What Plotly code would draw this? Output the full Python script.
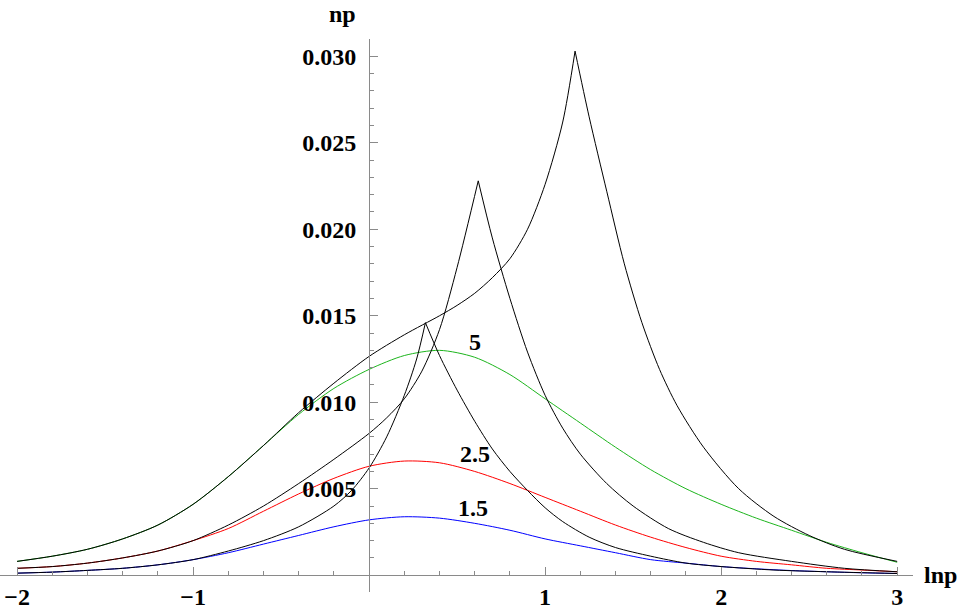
import plotly.graph_objects as go

# ---- data ----
x_col = [-2, -1.8, -1.6, -1.4, -1.2, -1.0, -0.8, -0.6, -0.4, -0.2, 0, 0.2, 0.4, 0.6, 0.8,
         1.0, 1.2, 1.4, 1.6, 1.8, 2.0, 2.2, 2.4, 2.6, 2.8, 3.0]
green_5 = [0.0008, 0.0011, 0.0015, 0.0021, 0.0029, 0.0041, 0.0057, 0.0075, 0.0093, 0.0108,
           0.0119, 0.0127, 0.0130, 0.0126, 0.0116, 0.0102, 0.0088, 0.0074, 0.0061, 0.0050,
           0.0041, 0.0033, 0.0026, 0.0019, 0.0013, 0.00075]
red_25 = [0.0004, 0.0005, 0.0007, 0.0010, 0.0014, 0.0020, 0.0027, 0.0037, 0.0047, 0.0056,
          0.0063, 0.0066, 0.0065, 0.0060, 0.0053, 0.0045, 0.0037, 0.0029, 0.0022, 0.0016,
          0.0011, 0.0008, 0.0006, 0.0004, 0.0003, 0.0002]
blue_15 = [0.00012, 0.00018, 0.00028, 0.0004, 0.0006, 0.0009, 0.0013, 0.0018, 0.0023, 0.0028,
           0.0032, 0.00338, 0.0033, 0.0030, 0.0026, 0.0021, 0.0017, 0.0013, 0.0009, 0.0007,
           0.0005, 0.00037, 0.00027, 0.0002, 0.00014, 0.0001]

# black curve A (follows green on the left, cusp near 1.17)
a_left_x = [-2, -1.8, -1.6, -1.4, -1.2, -1.0, -0.8, -0.6, -0.4, -0.2, 0, 0.2, 0.4,
            0.5, 0.6, 0.7, 0.8, 0.9, 1.0, 1.1, 1.17]
a_left_y = [0.0008, 0.0011, 0.0015, 0.0021, 0.0029, 0.0041, 0.0057, 0.0075, 0.0094, 0.0111,
            0.01265, 0.0139, 0.0150, 0.0156, 0.0163, 0.0172, 0.0183, 0.0200, 0.0226, 0.0262, 0.0303]
a_right_x = [1.17, 1.25, 1.35, 1.45, 1.55, 1.65, 1.75, 1.9, 2.1, 2.3, 2.5, 2.7, 3.0]
a_right_y = [0.0303, 0.0265, 0.0222, 0.0180, 0.0146, 0.0119, 0.0098, 0.0074, 0.0050, 0.0034,
             0.0023, 0.0015, 0.0008]

# black curve B (follows red on the left, cusp near 0.62)
b_left_x = [-2, -1.8, -1.6, -1.4, -1.2, -1.0, -0.8, -0.6, -0.4, -0.2, 0, 0.1, 0.2, 0.3, 0.4, 0.5, 0.62]
b_left_y = [0.0004, 0.0005, 0.0007, 0.0010, 0.0014, 0.0020, 0.0029, 0.0040, 0.0053, 0.0067,
            0.0082, 0.0091, 0.0102, 0.0118, 0.0142, 0.0178, 0.0228]
b_right_x = [0.62, 0.7, 0.8, 0.9, 1.0, 1.1, 1.2, 1.35, 1.5, 1.7, 1.9, 2.1, 2.4, 2.7, 3.0]
b_right_y = [0.0228, 0.0195, 0.0160, 0.0129, 0.0104, 0.0085, 0.0070, 0.0053, 0.0040, 0.0027,
             0.0019, 0.0013, 0.0008, 0.0004, 0.0002]

# black curve C (follows blue on the left, cusp near 0.32)
c_left_x = [-2, -1.8, -1.6, -1.4, -1.2, -1.0, -0.8, -0.6, -0.4, -0.2, -0.1, 0, 0.1, 0.2, 0.27, 0.32]
c_left_y = [0.00012, 0.00018, 0.00028, 0.0004, 0.0006, 0.0009, 0.0014, 0.0020, 0.0028, 0.0040,
            0.0049, 0.0062, 0.0080, 0.0104, 0.0125, 0.0146]
c_right_x = [0.32, 0.4, 0.5, 0.6, 0.7, 0.8, 0.9, 1.0, 1.1, 1.25, 1.4, 1.6, 1.8, 2.0, 2.3, 2.6, 3.0]
c_right_y = [0.0146, 0.0127, 0.0107, 0.0089, 0.0073, 0.0060, 0.0049, 0.0039, 0.0031, 0.0022,
             0.0016, 0.0011, 0.0007, 0.0005, 0.0003, 0.0002, 0.0001]

curve_labels = ["5", "2.5", "1.5"]
label_x = [0.60, 0.60, 0.59]
label_y = [0.0135, 0.0070, 0.0039]

x_tickvals = [-2, -1, 1, 2, 3]
x_ticktext = ["\u22122", "\u22121", "1", "2", "3"]
y_tickvals = [0.005, 0.010, 0.015, 0.020, 0.025, 0.030]
y_ticktext = ["0.005", "0.010", "0.015", "0.020", "0.025", "0.030"]

X_RANGE = [-2.097, 3.09]
Y_RANGE = [-0.00097, 0.0310]

FONT = "Liberation Serif"
AXIS_COL = "#8a8a8a"

fig = go.Figure()

def add_line(xs, ys, color):
    fig.add_trace(go.Scatter(x=xs, y=ys, mode="lines",
                             line=dict(color=color, width=1, shape="spline", smoothing=0.8),
                             showlegend=False, hoverinfo="skip"))

add_line(x_col, green_5, "#1db51d")
add_line(x_col, red_25, "#ff0000")
add_line(x_col, blue_15, "#0000ff")
for xs, ys in [(a_left_x, a_left_y), (a_right_x, a_right_y),
               (b_left_x, b_left_y), (b_right_x, b_right_y),
               (c_left_x, c_left_y), (c_right_x, c_right_y)]:
    add_line(xs, ys, "#000000")

for t, lx, ly in zip(curve_labels, label_x, label_y):
    fig.add_annotation(x=lx, y=ly, text="<b>%s</b>" % t, showarrow=False,
                       font=dict(family=FONT, size=24, color="black"))

xpos = (0 - Y_RANGE[0]) / (Y_RANGE[1] - Y_RANGE[0])
ypos = (0 - X_RANGE[0]) / (X_RANGE[1] - X_RANGE[0])

fig.update_layout(
    width=960, height=610,
    margin=dict(l=0, r=47, t=39, b=12),
    paper_bgcolor="white", plot_bgcolor="white",
    font=dict(family=FONT, size=24, color="black"),
    xaxis=dict(range=X_RANGE, anchor="free", position=xpos,
               showgrid=False, zeroline=False,
               showline=True, linecolor=AXIS_COL, linewidth=1,
               tickmode="array", tickvals=x_tickvals, ticktext=x_ticktext,
               ticks="inside", ticklen=8, tickcolor=AXIS_COL, tickwidth=1,
               ticklabelstandoff=0,
               tickfont=dict(family=FONT, size=24, color="black", weight="bold"),
               minor=dict(tickmode="linear", tick0=0, dtick=0.2, ticks="inside",
                          ticklen=4, tickcolor=AXIS_COL, showgrid=False)),
    yaxis=dict(range=Y_RANGE, anchor="free", position=ypos,
               showgrid=False, zeroline=False,
               showline=True, linecolor=AXIS_COL, linewidth=1,
               tickmode="array", tickvals=y_tickvals, ticktext=y_ticktext,
               ticks="inside", ticklen=8, tickcolor=AXIS_COL, tickwidth=1,
               ticklabelstandoff=8,
               tickfont=dict(family=FONT, size=24, color="black", weight="bold"),
               minor=dict(tickmode="linear", tick0=0, dtick=0.001, ticks="inside",
                          ticklen=4, tickcolor=AXIS_COL, showgrid=False)),
)

fig.add_annotation(xref="paper", yref="paper", x=1.0, y=xpos, xanchor="left", yanchor="middle",
                   xshift=9, text="<b>lnp</b>", showarrow=False,
                   font=dict(family=FONT, size=24, color="black"))
fig.add_annotation(xref="paper", yref="paper", x=ypos, y=1.0, xanchor="center", yanchor="bottom",
                   xshift=-27, yshift=10, text="<b>np</b>", showarrow=False,
                   font=dict(family=FONT, size=24, color="black"))

fig.write_html("out.html")
